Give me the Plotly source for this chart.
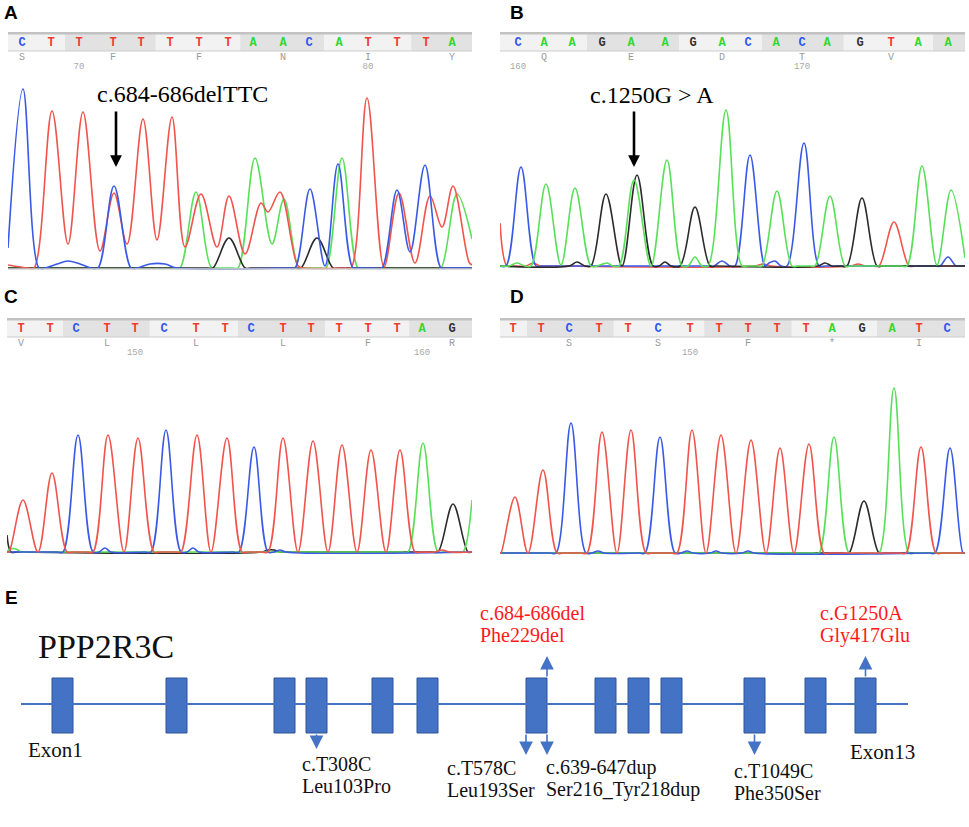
import plotly.graph_objects as go

W, H = 969, 827

# ---------------- Sanger traces (panels A-D) ----------------
# base calls, call positions (scan units), translation frame, first base number
A_seq = "CTTTTTTTAACATTTA"
A_calls = [22, 51, 79, 113, 141, 170, 199, 228, 253, 283, 309, 339, 368, 397, 426, 452]
A_aa = "SFFNIY"
A_aa_mid = 0
A_first_num = 68

B_seq = "CAAGAAGACACAGTAA"
B_calls = [33, 59, 87, 117, 146, 180, 208, 237, 263, 291, 317, 342, 375, 406, 433, 463]
B_aa = "QEDTV"
B_aa_mid = 1
B_first_num = 160

C_seq = "TTCTTCTTCTTTTTAG"
C_calls = [21, 50, 76, 107, 135, 164, 196, 225, 251, 283, 311, 339, 368, 397, 422, 452]
C_aa = "VLLLFR"
C_aa_mid = 0
C_first_num = 146

D_seq = "TTCTTCTTTTTAGATC"
D_calls = [28, 56, 84, 114, 143, 173, 205, 234, 263, 292, 321, 347, 377, 407, 434, 462]
D_aa = "SSF*I"
D_aa_mid = 2
D_first_num = 144

# trace knots (scan position, signal)
A_blue = [(8, 20), (23, 179), (39, 0), (45, 0), (57, 4), (68, 7), (80, 4), (91, 0), (98, 0), (114, 82),
          (131, 0), (137, 0), (150, 4), (165, 4), (177, 0), (289, 0), (295, 0), (310, 79), (325, 2),
          (338, 104), (353, 0), (359, 0), (376, 0), (382, 0), (397, 78), (410, 16), (425, 103),
          (441, 0), (447, 0), (472, 0)]
A_red = [(8, 3), (28, 0), (34, 0), (52, 157), (68, 24), (83, 156), (100, 17), (114, 75), (127, 24),
         (143, 149), (157, 28), (172, 151), (185, 21), (201, 74), (217, 21), (229, 72), (245, 14),
         (261, 65), (268, 56), (280, 76), (298, 2), (304, 0), (345, 0), (351, 0), (367, 170), (384, 1),
         (399, 75), (415, 5), (430, 72), (442, 41), (453, 82), (469, 6), (472, 3)]
A_green = [(8, 0), (174, 0), (180, 0), (196, 76), (211, 1), (217, 0), (232, 0), (238, 0), (255, 110),
           (272, 24), (284, 69), (299, 0), (305, 0), (321, 0), (326, 0), (342, 110), (358, 0), (364, 0),
           (435, 0), (441, 0), (457, 74), (472, 29)]
A_black = [(8, 0), (207, 0), (213, 0), (229, 30), (245, 0), (251, 0), (295, 0), (301, 0), (317, 30),
           (333, 0), (339, 0), (472, 0)]

B_blue = [(15, 0), (21, 0), (36, 99), (51, 0), (57, 0), (224, 0), (229, 0), (237, 5), (245, 0), (250, 0),
          (265, 111), (280, 0), (284, 3), (290, 5), (296, 0), (302, 0), (319, 123), (334, 0), (340, 0),
          (449, 0), (455, 0), (463, 9), (471, 0), (476, 0), (480, 0)]
B_red = [(15, 43), (22, 0), (28, 0), (41, 0), (48, 3), (55, 0), (61, 0), (270, 0), (278, 2), (286, 0),
         (366, 0), (373, 2), (380, 0), (388, 0), (394, 0), (409, 44), (424, 0), (430, 0), (480, 0)]
B_green = [(15, 0), (24, 0), (32, 3), (40, 0), (46, 0), (61, 82), (76, 1), (90, 78), (106, 0), (112, 0),
           (122, 3), (128, 0), (134, 0), (149, 86), (166, 0), (182, 106), (197, 0), (203, 0), (210, 9),
           (217, 0), (223, 0), (241, 156), (257, 0), (263, 0), (272, 0), (277, 0), (292, 75), (307, 0),
           (313, 0), (325, 0), (330, 0), (345, 70), (360, 0), (366, 0), (416, 0), (422, 0), (437, 100),
           (452, 1), (466, 76), (480, 8)]
B_black = [(15, 0), (84, 0), (92, 4), (100, 0), (106, 0), (121, 72), (137, 0), (152, 91), (168, 0),
           (174, 0), (180, 4), (186, 0), (195, 0), (210, 59), (225, 0), (231, 0), (333, 0), (340, 3),
           (347, 0), (356, 0), (362, 0), (377, 68), (392, 0), (398, 0), (480, 0)]

C_red = [(7, 0), (9, 0), (23, 52), (38, 0), (52, 79), (67, 0), (73, 0), (87, 0), (93, 0), (108, 117),
         (124, 0), (138, 114), (154, 0), (160, 0), (176, 0), (181, 0), (197, 117), (211, 0), (227, 114),
         (242, 0), (248, 0), (262, 0), (268, 0), (283, 114), (298, 0), (313, 111), (328, 0), (342, 107),
         (357, 0), (371, 102), (386, 0), (400, 102), (415, 0), (421, 0), (434, 0), (442, 2), (450, 0),
         (472, 0)]
C_blue = [(7, 0), (57, 0), (63, 0), (78, 117), (93, 0), (99, 0), (105, 4), (111, 0), (145, 0), (151, 0),
          (166, 122), (181, 0), (187, 0), (193, 4), (199, 0), (233, 0), (239, 0), (254, 105), (268, 0),
          (274, 0), (280, 2), (286, 0), (472, 0)]
C_green = [(7, 0), (10, 3), (16, 3), (21, 0), (27, 0), (402, 0), (408, 0), (423, 109), (438, 0), (444, 0),
           (458, 0), (463, 0), (472, 52)]
C_black = [(7, 17), (11, 0), (17, 0), (262, 0), (268, 2), (274, 2), (280, 0), (286, 0), (432, 0), (438, 0),
           (453, 48), (468, 0), (472, 0)]

D_red = [(15, 0), (16, 0), (30, 56), (43, 0), (58, 83), (72, 0), (78, 0), (96, 0), (102, 0), (117, 121),
         (132, 0), (146, 123), (161, 0), (167, 0), (186, 0), (192, 0), (207, 123), (221, 0), (236, 118),
         (251, 0), (266, 113), (281, 0), (295, 105), (309, 0), (324, 109), (339, 0), (345, 0), (415, 0),
         (421, 0), (436, 106), (451, 0), (457, 0), (480, 0)]
D_blue = [(15, 0), (65, 0), (71, 0), (86, 130), (101, 0), (107, 0), (113, 2), (119, 0), (154, 0), (160, 0),
          (175, 116), (190, 0), (196, 0), (202, 2), (208, 0), (225, 0), (231, 2), (237, 0), (257, 0),
          (263, 2), (269, 0), (444, 0), (450, 0), (465, 105), (478, 0), (480, 0)]
D_green = [(15, 0), (328, 0), (334, 0), (349, 116), (364, 0), (370, 0), (388, 0), (394, 0), (409, 165),
           (424, 0), (430, 0), (480, 0)]
D_black = [(15, 0), (358, 0), (364, 0), (379, 52), (394, 0), (400, 0), (480, 0)]

# ---------------- gene structure (panel E) ----------------
exon_starts = [52, 166, 274, 306, 372, 417, 526, 595, 628, 661, 744, 805, 855]
exon_width = 21
gene_span = [21, 908]
variant_cdna = ["c.T308C", "c.T578C", "c.639-647dup", "c.684-686del", "c.T1049C", "c.G1250A"]
variant_protein = ["Leu103Pro", "Leu193Ser", "Ser216_Tyr218dup", "Phe229del", "Phe350Ser", "Gly417Glu"]
variant_exon = [4, 7, 7, 7, 11, 13]
variant_side = ["mid", "left", "right", "right", "mid", "mid"]
variant_novel = [False, False, False, True, False, True]

# ---------------- styling ----------------
CH_COL = {"red": "#f0544c", "blue": "#3a5ae6", "green": "#58e058", "black": "#2b2b2b"}
BASE_COL = {"T": "#f23a30", "C": "#3056f0", "A": "#30d830", "G": "#333333"}
EXON_BLUE = "#4472C4"
SERIF = "Liberation Serif"


def fx(px):
    return px / W


def fy(py):
    return 1 - py / H


# panel geometry in pixels: x0, x1, x range, y top, y bottom, baseline, strip top
panels = [
    dict(name="A", seq=A_seq, calls=A_calls, aa=A_aa, mid=A_aa_mid, first=A_first_num,
         ch=dict(green=A_green, black=A_black, red=A_red, blue=A_blue),
         n=1, s=5, px=(8, 472), xr=(8, 472), top=80, bot=270, base=268, strip=30),
    dict(name="B", seq=B_seq, calls=B_calls, aa=B_aa, mid=B_aa_mid, first=B_first_num,
         ch=dict(red=B_red, blue=B_blue, black=B_black, green=B_green),
         n=2, s=6, px=(500, 965), xr=(15, 480), top=78, bot=268, base=266, strip=30),
    dict(name="C", seq=C_seq, calls=C_calls, aa=C_aa, mid=C_aa_mid, first=C_first_num,
         ch=dict(black=C_black, green=C_green, blue=C_blue, red=C_red),
         n=3, s=7, px=(7, 472), xr=(7, 472), top=362, bot=554, base=552, strip=316),
    dict(name="D", seq=D_seq, calls=D_calls, aa=D_aa, mid=D_aa_mid, first=D_first_num,
         ch=dict(black=D_black, green=D_green, blue=D_blue, red=D_red),
         n=4, s=8, px=(500, 965), xr=(15, 480), top=362, bot=555, base=553, strip=316),
]


def ax_id(n):
    return "" if n == 1 else str(n)


def paper_text(txt, px, py, font):
    return dict(text=txt, x=fx(px), y=fy(py), xref="paper", yref="paper", xanchor="center",
                yanchor="middle", showarrow=False, font=font)


fig = go.Figure()
layout = dict(width=W, height=H, margin=dict(l=0, r=0, t=0, b=0),
              paper_bgcolor="white", plot_bgcolor="white", showlegend=False)
shapes = []
annotations = []

for p in panels:
    t, s = ax_id(p["n"]), ax_id(p["s"])
    xdom = [fx(p["px"][0]), fx(p["px"][1])]
    layout["xaxis" + t] = dict(domain=xdom, range=list(p["xr"]), visible=False, fixedrange=True, anchor="y" + t)
    layout["yaxis" + t] = dict(domain=[fy(p["bot"]), fy(p["top"])],
                               range=[-(p["bot"] - p["base"]), p["base"] - p["top"]],
                               visible=False, fixedrange=True, anchor="x" + t)
    layout["xaxis" + s] = dict(domain=xdom, range=list(p["xr"]), visible=False, fixedrange=True, anchor="y" + s)
    layout["yaxis" + s] = dict(domain=[fy(p["strip"] + 42), fy(p["strip"])], range=[42, 0],
                               visible=False, fixedrange=True, anchor="x" + s)

    for ch, knots in p["ch"].items():
        fig.add_trace(go.Scatter(
            x=[k[0] for k in knots], y=[k[1] for k in knots], mode="lines",
            line=dict(color=CH_COL[ch], width=1.6, shape="spline", smoothing=1),
            xaxis="x" + t, yaxis="y" + t, hoverinfo="skip"))

    # base-call strip with alternating codon shading
    calls, n = p["calls"], len(p["calls"])
    shapes.append(dict(type="rect", xref="x" + s, yref="y" + s, x0=p["xr"][0], x1=p["xr"][1],
                       y0=2, y1=21, fillcolor="#e4e4e4", line_width=0, layer="below"))
    start = p["mid"] - 1
    while start > 0:
        start -= 3
    k = 0
    while start < n:
        lo, hi = max(start, 0), min(start + 2, n - 1)
        x0 = p["xr"][0] if lo == 0 else (calls[lo - 1] + calls[lo]) / 2
        x1 = p["xr"][1] if hi == n - 1 else (calls[hi] + calls[hi + 1]) / 2
        shapes.append(dict(type="rect", xref="x" + s, yref="y" + s, x0=x0, x1=x1, y0=4, y1=21,
                           fillcolor="#f2f2f2" if k % 2 == 0 else "#e2e2e2", line_width=0, layer="below"))
        start += 3
        k += 1
    shapes.append(dict(type="rect", xref="x" + s, yref="y" + s, x0=p["xr"][0], x1=p["xr"][1],
                       y0=2, y1=4.5, fillcolor="#c2c2c2", line_width=0, layer="below"))
    shapes.append(dict(type="line", xref="x" + s, yref="y" + s, x0=p["xr"][0], x1=p["xr"][1],
                       y0=21, y1=21, line=dict(color="#cccccc", width=1), layer="below"))

    fig.add_trace(go.Scatter(
        x=calls, y=[12.5] * n, mode="text", text=list(p["seq"]),
        textfont=dict(family="Liberation Mono", size=12, weight="bold",
                      color=[BASE_COL[b] for b in p["seq"]]),
        xaxis="x" + s, yaxis="y" + s, hoverinfo="skip"))
    aa_idx = list(range(p["mid"], n, 3))[:len(p["aa"])]
    fig.add_trace(go.Scatter(
        x=[calls[i] for i in aa_idx], y=[27] * len(aa_idx), mode="text", text=list(p["aa"]),
        textfont=dict(family="Liberation Mono", size=10, color="#9a9a9a"),
        xaxis="x" + s, yaxis="y" + s, hoverinfo="skip"))
    num_idx = [i for i in range(n) if (p["first"] + i) % 10 == 0]
    fig.add_trace(go.Scatter(
        x=[calls[i] for i in num_idx], y=[37] * len(num_idx), mode="text",
        text=[str(p["first"] + i) for i in num_idx],
        textfont=dict(family="Liberation Mono", size=9, color="#a8a8a8"),
        xaxis="x" + s, yaxis="y" + s, hoverinfo="skip"))

    lx = 11 if p["px"][0] < 100 else 517
    ly = 12 if p["top"] < 200 else 297
    annotations.append(paper_text("<b>%s</b>" % p["name"], lx, ly,
                                  dict(family="Liberation Sans", size=19, color="black")))

# faint baseline under trace A
shapes.append(dict(type="line", xref="x", yref="y", x0=8, x1=472, y0=-1, y1=-1,
                   line=dict(color="#d0d0d0", width=1.5)))

# mutation callouts in A and B
for txt, cx, cy, ax_, tip_x, tip_h in [("c.684-686delTTC", 182, 94, "", 116, 101),
                                        ("c.1250G > A", 652, 95, "2", 149, 99)]:
    annotations.append(paper_text(txt, cx, cy, dict(family=SERIF, size=24, color="black")))
    annotations.append(dict(text="", x=tip_x, y=tip_h, xref="x" + ax_, yref="y" + ax_, showarrow=True,
                            ax=0, ay=-57, arrowhead=2, arrowsize=0.9, arrowwidth=2.6,
                            arrowcolor="black", standoff=0))

# ---------------- panel E ----------------
layout["xaxis9"] = dict(domain=[0, 1], range=[0, W], visible=False, fixedrange=True, anchor="y9")
layout["yaxis9"] = dict(domain=[0, fy(580)], range=[H, 580], visible=False, fixedrange=True, anchor="x9")

exon_top, exon_h, line_y = 678, 55, 704
fig.add_trace(go.Scatter(x=gene_span, y=[line_y, line_y], mode="lines",
                         line=dict(color=EXON_BLUE, width=2), xaxis="x9", yaxis="y9", hoverinfo="skip"))
fig.add_trace(go.Bar(x=[e + exon_width / 2 for e in exon_starts], y=[exon_h] * len(exon_starts),
                     base=[exon_top] * len(exon_starts), width=exon_width,
                     marker=dict(color=EXON_BLUE, line=dict(color="#2f5597", width=1)),
                     xaxis="x9", yaxis="y9", hoverinfo="skip"))

label_xy = [(300, 764), (445, 768), (544, 767), (478, 613), (732, 771), (818, 613)]
for i in range(len(variant_cdna)):
    e0 = exon_starts[variant_exon[i] - 1]
    xa = {"left": e0, "right": e0 + exon_width, "mid": e0 + exon_width / 2}[variant_side[i]]
    if variant_novel[i]:
        tail, tip = exon_top, exon_top - 22
    else:
        tail = exon_top + exon_h
        tip = tail + (16 if i == 0 else 22)
    annotations.append(dict(text="", x=xa, y=tip, xref="x9", yref="y9", ax=xa, ay=tail,
                            axref="x9", ayref="y9", showarrow=True, arrowhead=2, arrowsize=1.7,
                            arrowwidth=1.6, arrowcolor=EXON_BLUE, standoff=0))
    col = "#ff1a1a" if variant_novel[i] else "#111111"
    lx, ly = label_xy[i]
    for j, txt in enumerate([variant_cdna[i], variant_protein[i]]):
        annotations.append(dict(text=txt, x=lx, y=ly + 22 * j, xref="x9", yref="y9", xanchor="left",
                                yanchor="middle", showarrow=False, font=dict(family=SERIF, size=20, color=col)))

for txt, lx, ly in [("Exon1", 26, 750), ("Exon13", 848, 752)]:
    annotations.append(dict(text=txt, x=lx, y=ly, xref="x9", yref="y9", xanchor="left", yanchor="middle",
                            showarrow=False, font=dict(family=SERIF, size=21, color="#111111")))
annotations.append(dict(text="PPP2R3C", x=36, y=646, xref="x9", yref="y9", xanchor="left", yanchor="middle",
                        showarrow=False, font=dict(family=SERIF, size=34, color="#111111")))
annotations.append(paper_text("<b>E</b>", 11, 597, dict(family="Liberation Sans", size=19, color="black")))

layout["shapes"] = shapes
layout["annotations"] = annotations
fig.update_layout(**layout)
# drop the browser's default 8px body margin so the figure sits at the page origin
fig.write_html("out.html", config={"displayModeBar": False},
               post_script="document.body.style.margin='0px';")
